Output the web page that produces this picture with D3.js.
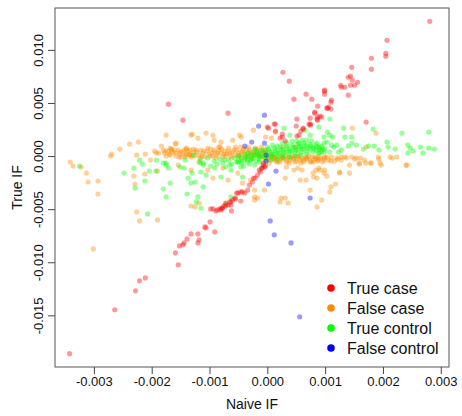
<!DOCTYPE html>
<html>
<head>
<meta http-equiv="Content-Type" content="text/html;charset=utf-8">
<script type="text/javascript" src="https://d3js.org/d3.v7.min.js"></script>
<style>
  body { margin: 0; background: #fff; }
  svg text { font-family: "Liberation Sans", Arial, Helvetica, sans-serif; }
</style>
</head>
<body>
<div id="chart"></div>
<script type="text/javascript">

// [naive IF, true IF]
var trueCase = [
  [2.81e-3,12.69e-3],[2.07e-3,10.90e-3],[2.05e-3,9.68e-3],[2.05e-3,9.40e-3],[1.80e-3,9.21e-3],[1.80e-3,8.18e-3],
  [1.46e-3,8.36e-3],[0.38e-3,7.05e-3],[1.40e-3,7.42e-3],[1.44e-3,7.52e-3],[1.47e-3,7.14e-3],[1.56e-3,6.95e-3],
  [1.51e-3,6.67e-3],[1.27e-3,6.67e-3],[1.28e-3,6.48e-3],[1.34e-3,6.48e-3],[1.44e-3,6.67e-3],[0.99e-3,6.11e-3],
  [0.99e-3,5.83e-3],[0.67e-3,5.83e-3],[0.77e-3,5.36e-3],[0.46e-3,5.36e-3],[1.40e-3,5.73e-3],[1.11e-3,5.26e-3],
  [1.10e-3,5.07e-3],[1.06e-3,4.61e-3],[1.04e-3,4.51e-3],[1.10e-3,4.42e-3],[1.03e-3,4.51e-3],[0.87e-3,4.70e-3],
  [0.82e-3,4.14e-3],[0.91e-3,3.76e-3],[0.87e-3,3.67e-3],[0.86e-3,3.48e-3],[0.87e-3,3.38e-3],[0.74e-3,3.57e-3],
  [0.51e-3,3.48e-3],[1.71e-3,3.20e-3],[0.75e-3,3.01e-3],[0.74e-3,2.91e-3],[0.50e-3,2.82e-3],[0.62e-3,2.63e-3],
  [0.27e-3,7.89e-3],[0.99e-3,6.20e-3],[0.72e-3,3.01e-3],[0.62e-3,2.54e-3],[0.58e-3,2.35e-3],[0.55e-3,1.97e-3],
  [0.51e-3,1.88e-3],[0.14e-3,3.01e-3],[0.02e-3,2.63e-3],[0.22e-3,1.69e-3],[0.26e-3,1.79e-3],[0.31e-3,1.41e-3],
  [-0.68e-3,4.04e-3],[-1.71e-3,4.89e-3],[-1.46e-3,3.38e-3],[0.00e-3,2.73e-3],[0.12e-3,3.01e-3],[0.14e-3,2.35e-3],
  [0.26e-3,2.07e-3],[0.82e-3,4.04e-3],[0.94e-3,3.67e-3],
  [-0.05e-3,-1.03e-3],[-0.07e-3,-0.66e-3],[-0.03e-3,-0.94e-3],[-0.12e-3,-1.50e-3],[-0.21e-3,-2.07e-3],
  [-0.26e-3,-2.44e-3],[-0.31e-3,-2.73e-3],[-0.34e-3,-3.20e-3],[-0.39e-3,-3.48e-3],[-0.46e-3,-3.38e-3],
  [-0.51e-3,-3.48e-3],[-0.56e-3,-3.95e-3],[-0.63e-3,-4.32e-3],[-0.72e-3,-4.42e-3],[-0.77e-3,-4.89e-3],
  [-0.86e-3,-5.07e-3],[-0.94e-3,-4.98e-3],[-0.53e-3,-3.48e-3],[-0.43e-3,-3.38e-3],[-0.55e-3,-4.04e-3],
  [-0.60e-3,-4.14e-3],[-0.65e-3,-4.32e-3],[-0.68e-3,-4.61e-3],[-0.63e-3,-4.61e-3],[-0.80e-3,-5.07e-3],
  [-0.89e-3,-5.17e-3],[-0.98e-3,-4.98e-3],[-0.62e-3,-5.17e-3],[-0.46e-3,-4.23e-3],[-0.99e-3,-6.20e-3],
  [-1.06e-3,-6.77e-3],[-0.91e-3,-7.14e-3],[-1.20e-3,-7.33e-3],[-1.32e-3,-7.33e-3],[-1.18e-3,-7.89e-3],
  [-1.20e-3,-8.18e-3],[-1.39e-3,-7.80e-3],[-1.44e-3,-8.18e-3],[-1.46e-3,-8.36e-3],[-1.52e-3,-8.46e-3],
  [-1.59e-3,-9.12e-3],[-1.54e-3,-10.24e-3],[-2.28e-3,-12.69e-3],[-2.21e-3,-11.75e-3],[-2.11e-3,-11.47e-3],
  [-2.64e-3,-14.47e-3],[-3.42e-3,-18.61e-3],[-1.08e-3,-6.67e-3],[-0.09e-3,-1.13e-3],[-0.14e-3,-1.32e-3],
  [-0.17e-3,-1.79e-3],[-0.24e-3,-2.07e-3],[-0.75e-3,-4.70e-3],[-0.79e-3,-4.89e-3],
  [-0.07e-3,-0.85e-3],[-0.10e-3,-1.13e-3],[-0.72e-3,-4.70e-3],[-0.82e-3,-4.98e-3]
];

var falseCase = [
  [-3.41e-3,-0.56e-3],[-3.36e-3,-0.94e-3],[-3.22e-3,-1.03e-3],[-3.13e-3,-1.60e-3],[-3.10e-3,-2.44e-3],
  [-2.93e-3,-2.35e-3],[-2.93e-3,-3.57e-3],[-3.01e-3,-8.74e-3],[-2.71e-3,0.00e-3],[-2.69e-3,0.19e-3],
  [-2.55e-3,0.66e-3],[-2.38e-3,1.13e-3],[-2.23e-3,1.32e-3],[-2.26e-3,0.09e-3],[-2.11e-3,0.19e-3],
  [-2.02e-3,-0.38e-3],[-2.12e-3,-1.69e-3],[-2.31e-3,-1.88e-3],[-2.29e-3,-2.63e-3],[-1.88e-3,0.28e-3],
  [-1.83e-3,0.94e-3],[-1.75e-3,1.97e-3],[-1.68e-3,0.75e-3],[-1.59e-3,1.13e-3],[-1.51e-3,0.38e-3],
  [-1.42e-3,0.09e-3],[-1.30e-3,2.07e-3],[-1.20e-3,1.69e-3],[-1.18e-3,-0.56e-3],[-1.06e-3,2.16e-3],
  [-0.92e-3,1.50e-3],[-0.84e-3,0.85e-3],[-1.18e-3,-4.42e-3],[-1.25e-3,-4.79e-3],[-1.54e-3,-0.85e-3],
  [-2.26e-3,-5.26e-3],[-2.21e-3,-6.11e-3],[-1.90e-3,-6.01e-3],[-1.90e-3,-1.41e-3],[-1.32e-3,-4.70e-3],
  [-1.40e-3,0.75e-3],[-1.40e-3,0.19e-3],[-1.34e-3,0.56e-3],[-1.32e-3,0.09e-3],[-1.58e-3,1.22e-3],
  [-1.66e-3,0.56e-3],[-1.80e-3,0.56e-3],[-1.95e-3,0.47e-3],[-1.92e-3,0.28e-3],
  [-1.32e-3,-1.32e-3],[-1.03e-3,-1.32e-3],[-0.94e-3,-2.07e-3],[-0.77e-3,-1.13e-3],[-0.68e-3,-2.26e-3],
  [-0.51e-3,-1.60e-3],[-0.43e-3,-2.54e-3],[-0.29e-3,-2.26e-3],[-0.22e-3,-3.20e-3],[-0.17e-3,-3.95e-3],
  [-0.05e-3,-3.20e-3],[0.31e-3,-2.07e-3],[0.46e-3,-1.32e-3],[0.60e-3,-1.32e-3],[0.80e-3,-1.97e-3],
  [0.89e-3,-1.13e-3],[0.74e-3,-3.20e-3],[0.94e-3,-4.14e-3],[0.86e-3,-4.79e-3],[0.22e-3,-4.32e-3],
  [0.31e-3,-3.95e-3],[-0.22e-3,-3.85e-3],
  [-0.24e-3,2.44e-3],[-0.45e-3,1.79e-3],[-0.46e-3,0.85e-3],[-0.33e-3,0.85e-3],[-0.10e-3,0.85e-3],
  [-0.03e-3,1.79e-3],[0.07e-3,1.69e-3],[0.14e-3,2.26e-3],[0.27e-3,0.85e-3],[0.48e-3,0.85e-3],
  [1.47e-3,2.63e-3],[1.88e-3,2.16e-3],[-0.48e-3,1.97e-3],[-1.32e-3,1.97e-3],[-0.94e-3,1.97e-3],
  [-0.80e-3,1.32e-3],[-0.60e-3,1.50e-3],
  [0.33e-3,-1.03e-3],[0.53e-3,-1.13e-3],[0.57e-3,-2.26e-3],[0.67e-3,-2.26e-3],[0.79e-3,-1.60e-3],
  [0.84e-3,-1.32e-3],[0.99e-3,-1.32e-3],[1.10e-3,-2.91e-3],[1.25e-3,-1.60e-3],[1.42e-3,-1.60e-3],
  [1.59e-3,-0.66e-3],[1.70e-3,-0.66e-3],[1.78e-3,-0.66e-3],[1.95e-3,-0.66e-3],[2.12e-3,-0.09e-3],
  [2.24e-3,-0.09e-3],[2.41e-3,-0.85e-3],[0.24e-3,-3.95e-3],[0.36e-3,-4.42e-3],[-0.22e-3,-4.14e-3],
  [1.71e-3,0.85e-3],[1.92e-3,-0.09e-3],[1.93e-3,-0.28e-3],[2.16e-3,-0.19e-3],[2.40e-3,-0.85e-3],
  [1.97e-3,-0.85e-3],[1.80e-3,-0.66e-3],[1.59e-3,-0.75e-3],[1.42e-3,-0.85e-3],[1.25e-3,-1.50e-3],
  [1.18e-3,-2.63e-3],[1.08e-3,-3.38e-3],[0.98e-3,-1.60e-3],[1.03e-3,-1.88e-3],[0.86e-3,-2.07e-3],
  [0.91e-3,-1.32e-3],
  [0.89e-3,-0.09e-3],[0.99e-3,-0.09e-3],[1.11e-3,-0.09e-3],[1.20e-3,-0.19e-3],[1.28e-3,-0.38e-3],
  [1.37e-3,-0.19e-3],[1.51e-3,-0.28e-3],[1.61e-3,-0.19e-3],
  [-1.78e-3,0.28e-3],[-1.71e-3,0.47e-3],[-1.68e-3,0.09e-3],[-1.63e-3,0.38e-3],[-1.58e-3,0.00e-3],
  [-1.54e-3,0.56e-3],[-1.51e-3,0.19e-3],[-1.46e-3,0.38e-3],[-1.42e-3,-0.09e-3],[-1.37e-3,0.47e-3],
  [-1.34e-3,0.19e-3],[-1.28e-3,0.66e-3],[-1.25e-3,0.00e-3],[-1.22e-3,0.38e-3],[-1.18e-3,0.09e-3],
  [-1.15e-3,0.56e-3],[-1.11e-3,0.28e-3],[-1.08e-3,-0.09e-3],[-1.04e-3,0.47e-3],[-1.01e-3,0.19e-3],
  [-0.98e-3,0.66e-3],[-0.94e-3,0.00e-3],[-0.91e-3,0.38e-3],[-0.87e-3,0.09e-3],[-0.84e-3,0.56e-3],
  [-0.80e-3,0.28e-3],[-0.77e-3,-0.09e-3],[-0.74e-3,0.47e-3],[-0.70e-3,0.19e-3],[-0.67e-3,0.75e-3],
  [-0.63e-3,0.00e-3],[-0.60e-3,0.38e-3],[-0.56e-3,0.09e-3],[-0.53e-3,0.56e-3],[-0.50e-3,0.28e-3],
  [-0.46e-3,-0.09e-3],[-0.43e-3,0.47e-3],[-0.39e-3,0.19e-3],[-0.36e-3,0.66e-3],[-0.33e-3,0.00e-3],
  [-0.29e-3,0.38e-3],[-0.26e-3,0.09e-3],[-0.22e-3,0.56e-3],[-0.19e-3,0.28e-3],[-0.15e-3,-0.09e-3],
  [-0.12e-3,0.47e-3],[-0.09e-3,0.19e-3],[-0.05e-3,-0.19e-3],[-0.02e-3,0.38e-3],
  [0.02e-3,-0.09e-3],[0.05e-3,-0.38e-3],[0.09e-3,0.00e-3],[0.12e-3,-0.28e-3],[0.15e-3,-0.47e-3],
  [0.19e-3,-0.09e-3],[0.22e-3,-0.38e-3],[0.26e-3,0.00e-3],[0.29e-3,-0.28e-3],[0.33e-3,-0.56e-3],
  [0.36e-3,-0.09e-3],[0.39e-3,-0.38e-3],[0.43e-3,0.00e-3],[0.46e-3,-0.28e-3],[0.50e-3,-0.47e-3],
  [0.53e-3,-0.09e-3],[0.56e-3,-0.38e-3],[0.60e-3,-0.19e-3],[0.63e-3,-0.56e-3],[0.67e-3,-0.09e-3],
  [0.70e-3,-0.28e-3],[0.74e-3,-0.47e-3],[0.77e-3,-0.09e-3],[0.80e-3,-0.38e-3],[0.84e-3,-0.19e-3],
  [0.87e-3,-0.47e-3],[0.92e-3,-0.19e-3],[0.98e-3,-0.38e-3],[1.03e-3,-0.09e-3],
  [-1.75e-3,0.00e-3],[-1.66e-3,0.66e-3],[-1.59e-3,0.28e-3],[-1.49e-3,-0.09e-3],[-1.40e-3,0.66e-3],
  [-1.32e-3,-0.09e-3],[-1.23e-3,0.56e-3],[-1.13e-3,0.00e-3],[-1.03e-3,0.75e-3],[-0.96e-3,0.28e-3],
  [-0.89e-3,-0.19e-3],[-0.82e-3,0.85e-3],[-0.75e-3,0.19e-3],[-0.68e-3,0.47e-3],[-0.62e-3,-0.19e-3],
  [-0.55e-3,0.85e-3],[-0.48e-3,0.09e-3],[-0.41e-3,0.66e-3],[-0.34e-3,0.28e-3],[-0.27e-3,-0.19e-3],
  [-0.21e-3,0.75e-3],[-0.14e-3,0.09e-3],[-0.07e-3,0.56e-3],
  [0.03e-3,-0.66e-3],[0.10e-3,-0.19e-3],[0.17e-3,-0.56e-3],[0.24e-3,-0.19e-3],[0.31e-3,0.00e-3],
  [0.38e-3,-0.66e-3],[0.45e-3,-0.19e-3],[0.51e-3,0.00e-3],[0.58e-3,-0.66e-3],[0.65e-3,-0.28e-3],
  [0.72e-3,0.00e-3],[0.79e-3,-0.56e-3],[0.86e-3,-0.28e-3],[0.96e-3,-0.56e-3],[1.06e-3,-0.38e-3],
  [1.16e-3,-0.47e-3],[1.28e-3,-0.09e-3],[1.46e-3,-0.09e-3],
  [-1.76e-3,0.47e-3],[-1.69e-3,0.19e-3],[-1.61e-3,0.56e-3],[-1.52e-3,-0.09e-3],[-1.44e-3,0.56e-3],
  [-1.35e-3,0.09e-3],[-1.27e-3,0.38e-3],[-1.16e-3,-0.19e-3],[-1.10e-3,0.47e-3],[-0.99e-3,0.00e-3],
  [-0.92e-3,0.56e-3],[-0.86e-3,0.28e-3],[-0.79e-3,0.66e-3],[-0.72e-3,0.00e-3],[-0.65e-3,0.28e-3],
  [-0.58e-3,0.56e-3],[-0.51e-3,0.00e-3],[-0.45e-3,0.38e-3],[-0.38e-3,-0.19e-3],[-0.31e-3,0.56e-3],
  [-0.24e-3,0.19e-3],[-0.17e-3,0.66e-3],[-0.10e-3,0.00e-3],[-0.03e-3,0.56e-3],
  [0.00e-3,-0.28e-3],[0.07e-3,0.09e-3],[0.14e-3,-0.19e-3],[0.21e-3,-0.56e-3],[0.27e-3,-0.09e-3],
  [0.34e-3,-0.38e-3],[0.41e-3,-0.19e-3],[0.48e-3,-0.56e-3],[0.55e-3,0.00e-3],[0.62e-3,-0.38e-3],
  [0.68e-3,-0.19e-3],[0.75e-3,-0.56e-3],[0.82e-3,-0.09e-3],[0.89e-3,-0.38e-3],[0.99e-3,-0.19e-3],
  [1.10e-3,-0.47e-3],[1.22e-3,-0.28e-3],[1.34e-3,-0.09e-3],[1.54e-3,-0.19e-3],[1.68e-3,-0.38e-3]
];

var trueControl = [
  [-1.16e-3,-0.38e-3],[-1.10e-3,-0.66e-3],[-1.03e-3,-0.19e-3],[-0.98e-3,-0.94e-3],[-0.92e-3,-0.47e-3],
  [-0.87e-3,-0.75e-3],[-0.82e-3,-0.28e-3],[-0.77e-3,-0.66e-3],[-0.72e-3,-1.03e-3],[-0.67e-3,-0.38e-3],
  [-0.62e-3,-0.75e-3],[-0.56e-3,-0.19e-3],[-0.53e-3,-0.56e-3],[-0.50e-3,0.00e-3],[-0.50e-3,-0.47e-3],
  [-0.45e-3,-0.19e-3],[-0.45e-3,-0.66e-3],[-0.39e-3,0.19e-3],[-0.39e-3,-0.38e-3],[-0.34e-3,-0.09e-3],
  [-0.34e-3,-0.56e-3],[-0.29e-3,0.09e-3],[-0.29e-3,-0.38e-3],[-0.24e-3,0.38e-3],[-0.24e-3,-0.19e-3],
  [-0.19e-3,0.00e-3],[-0.19e-3,-0.47e-3],[-0.14e-3,0.28e-3],[-0.14e-3,-0.28e-3],[-0.09e-3,0.56e-3],
  [-0.09e-3,0.00e-3],[-0.03e-3,0.28e-3],[-0.03e-3,-0.19e-3],[0.02e-3,0.66e-3],[0.02e-3,0.09e-3],
  [0.07e-3,0.38e-3],[0.07e-3,-0.09e-3],[0.12e-3,0.75e-3],[0.12e-3,0.19e-3],[0.17e-3,0.47e-3],
  [0.17e-3,0.00e-3],[0.22e-3,0.85e-3],[0.22e-3,0.28e-3],[0.27e-3,0.56e-3],[0.27e-3,0.09e-3],
  [0.33e-3,0.94e-3],[0.33e-3,0.38e-3],[0.38e-3,0.66e-3],[0.38e-3,0.19e-3],[0.43e-3,1.03e-3],
  [0.43e-3,0.47e-3],[0.48e-3,0.75e-3],[0.48e-3,0.28e-3],[0.53e-3,1.13e-3],[0.53e-3,0.56e-3],
  [0.58e-3,0.85e-3],[0.58e-3,0.38e-3],[0.63e-3,1.22e-3],[0.63e-3,0.66e-3],[0.68e-3,0.94e-3],
  [0.68e-3,0.47e-3],[0.74e-3,1.13e-3],[0.74e-3,0.66e-3],[0.79e-3,0.85e-3],[0.79e-3,0.38e-3],
  [0.84e-3,1.03e-3],[0.84e-3,0.56e-3],[0.89e-3,0.75e-3],[0.89e-3,0.28e-3],[0.94e-3,0.94e-3],
  [0.94e-3,0.47e-3],[0.99e-3,0.66e-3],
  [-0.14e-3,-0.56e-3],[-0.03e-3,-0.47e-3],[0.07e-3,-0.38e-3],[0.17e-3,-0.28e-3],[0.27e-3,-0.19e-3],
  [0.38e-3,-0.09e-3],[0.48e-3,0.00e-3],[0.58e-3,0.09e-3],[0.68e-3,0.19e-3],[0.09e-3,1.03e-3],
  [0.26e-3,1.22e-3],[0.43e-3,1.41e-3],[0.60e-3,1.50e-3],[0.77e-3,1.41e-3],[-0.21e-3,0.66e-3],
  [-0.31e-3,-0.75e-3],[-0.41e-3,-0.94e-3],
  [-0.38e-3,-0.09e-3],[-0.27e-3,-0.28e-3],[-0.17e-3,0.19e-3],[-0.07e-3,0.38e-3],[0.03e-3,0.47e-3],
  [0.14e-3,0.56e-3],[0.24e-3,0.66e-3],[0.34e-3,0.75e-3],[0.45e-3,0.85e-3],[0.55e-3,0.94e-3],
  [0.65e-3,1.03e-3],[0.75e-3,0.94e-3],[0.86e-3,0.85e-3],[0.96e-3,0.66e-3],[-0.33e-3,0.28e-3],
  [-0.22e-3,0.09e-3],[-0.12e-3,-0.09e-3],[-0.02e-3,0.00e-3],[0.09e-3,0.19e-3],[0.19e-3,0.28e-3],
  [0.29e-3,0.38e-3],[0.39e-3,0.47e-3],[0.50e-3,0.56e-3],[0.60e-3,0.66e-3],[0.70e-3,0.75e-3],
  [0.80e-3,0.66e-3],[0.91e-3,0.56e-3],[0.51e-3,1.41e-3],[0.34e-3,1.22e-3],[0.17e-3,0.94e-3],
  [0.00e-3,0.85e-3],[-0.17e-3,0.47e-3],[-0.34e-3,-0.28e-3],[-0.45e-3,-0.47e-3],
  [-3.25e-3,-0.94e-3],[-2.48e-3,-1.60e-3],[-2.31e-3,-1.13e-3],[-2.21e-3,-0.38e-3],[-2.16e-3,-0.75e-3],
  [-2.04e-3,-1.41e-3],[-1.93e-3,-1.41e-3],[-1.92e-3,-0.38e-3],[-1.80e-3,-0.66e-3],[-1.75e-3,-0.66e-3],
  [-1.71e-3,-1.13e-3],[-1.75e-3,-0.85e-3],[-1.68e-3,-2.54e-3],[-1.80e-3,-3.10e-3],[-1.75e-3,-3.85e-3],
  [-2.29e-3,-3.01e-3],[-2.12e-3,-2.35e-3],[-2.07e-3,-5.45e-3],[-1.51e-3,-1.03e-3],[-1.44e-3,-1.13e-3],
  [-1.42e-3,-0.38e-3],[-1.37e-3,-2.07e-3],[-1.30e-3,-1.60e-3],[-1.32e-3,-2.54e-3],[-1.39e-3,-3.57e-3],
  [-1.28e-3,0.09e-3],[-1.16e-3,-0.66e-3],[-1.11e-3,-0.85e-3],[-1.15e-3,-1.50e-3],[-1.06e-3,-1.79e-3],
  [-1.25e-3,-2.44e-3],[-1.11e-3,-2.91e-3],[-0.91e-3,-1.13e-3],[-0.74e-3,-0.38e-3],[-0.65e-3,-0.85e-3],
  [-0.63e-3,-1.32e-3],[-0.80e-3,-1.97e-3],[-0.51e-3,-0.56e-3],[-0.46e-3,-1.03e-3],[-0.43e-3,-1.97e-3],
  [-1.20e-3,-3.85e-3],[-1.23e-3,-4.32e-3],[-1.15e-3,-4.89e-3],[-0.63e-3,-3.85e-3],[-0.72e-3,-4.51e-3],
  [-0.22e-3,-0.85e-3],
  [0.29e-3,2.63e-3],[0.39e-3,1.97e-3],[0.55e-3,1.22e-3],[0.65e-3,2.44e-3],[0.68e-3,1.50e-3],
  [0.74e-3,1.97e-3],[0.89e-3,2.73e-3],[0.98e-3,1.22e-3],[1.08e-3,3.48e-3],[1.32e-3,2.63e-3],
  [1.83e-3,2.54e-3],[2.33e-3,2.16e-3],[2.79e-3,2.26e-3],[1.04e-3,2.26e-3],[1.08e-3,1.97e-3],
  [1.13e-3,1.79e-3],[0.98e-3,1.79e-3],[1.03e-3,1.32e-3],[1.34e-3,1.79e-3],[1.46e-3,1.79e-3],
  [1.46e-3,1.22e-3],[1.40e-3,0.94e-3],[1.54e-3,1.03e-3],[1.66e-3,0.66e-3],[1.75e-3,0.94e-3],
  [1.85e-3,0.94e-3],[1.93e-3,0.56e-3],[2.07e-3,1.32e-3],[2.09e-3,0.85e-3],[2.21e-3,0.66e-3],
  [2.43e-3,1.03e-3],[2.47e-3,0.75e-3],[2.52e-3,0.47e-3],[2.43e-3,0.28e-3],[2.65e-3,0.85e-3],
  [2.69e-3,0.28e-3],[2.79e-3,0.75e-3],[2.89e-3,0.66e-3],[1.20e-3,1.03e-3],[1.23e-3,0.38e-3],
  [1.28e-3,0.56e-3],[1.11e-3,1.03e-3],[0.86e-3,1.22e-3],[0.91e-3,0.85e-3],[0.98e-3,0.38e-3],
  [1.08e-3,0.38e-3],[1.15e-3,0.85e-3],[0.89e-3,0.28e-3]
];

var falseControl = [
  [-0.05e-3,3.85e-3],[-0.15e-3,2.82e-3],[-0.27e-3,1.32e-3],[-0.39e-3,0.94e-3],[-0.05e-3,1.22e-3],
  [-0.02e-3,0.09e-3],[-0.02e-3,-0.47e-3],[0.15e-3,-1.41e-3],[0.02e-3,-2.63e-3],[0.74e-3,-3.95e-3],
  [0.05e-3,-6.11e-3],[0.12e-3,-7.42e-3],[0.41e-3,-8.18e-3],[0.56e-3,-15.13e-3]
];

var groupNames = ["True case", "False case", "True control", "False control"];
var groupColors = ["#ff0000", "#ff8c00", "#00ff00", "#0000ff"];
var groupData = [trueCase, falseCase, trueControl, falseControl];
var drawOrder = [1, 2, 0, 3];

var xTicks = [-0.003, -0.002, -0.001, 0, 0.001, 0.002, 0.003];
var xTickLabels = ["-0.003", "-0.002", "-0.001", "0.000", "0.001", "0.002", "0.003"];
var yTicks = [-0.015, -0.010, -0.005, 0, 0.005, 0.010];
var yTickLabels = ["-0.015", "-0.010", "-0.005", "0.000", "0.005", "0.010"];

var width = 462, height = 416;
var margin = {top: 8, right: 13, bottom: 49, left: 55};
var plotW = width - margin.left - margin.right;
var plotH = height - margin.top - margin.bottom;

var allPts = d3.merge(groupData);
// R style: data range extended by 4% on each side
var xExt = d3.extent(allPts, function(d) { return d[0]; });
var yExt = d3.extent(allPts, function(d) { return d[1]; });
var xPad = (xExt[1] - xExt[0]) * 0.04;
var yPad = (yExt[1] - yExt[0]) * 0.04;

var x = d3.scaleLinear().domain([xExt[0] - xPad, xExt[1] + xPad]).range([0, plotW]);
var y = d3.scaleLinear().domain([yExt[0] - yPad, yExt[1] + yPad]).range([plotH, 0]);

var svg = d3.select("#chart").append("svg")
    .attr("width", width)
    .attr("height", height)
  .append("g")
    .attr("transform", "translate(" + margin.left + "," + margin.top + ")");

drawOrder.forEach(function(g) {
  svg.append("g")
    .selectAll("circle")
    .data(groupData[g])
    .enter().append("circle")
      .attr("cx", function(d) { return x(d[0]); })
      .attr("cy", function(d) { return y(d[1]); })
      .attr("r", 2.6)
      .style("fill", groupColors[g])
      .style("fill-opacity", 0.4);
});

var xAxis = svg.append("g")
    .attr("transform", "translate(0," + plotH + ")")
    .call(d3.axisBottom(x).tickValues(xTicks).tickSizeInner(7).tickSizeOuter(0)
      .tickFormat(function(d, i) { return xTickLabels[i]; }));
xAxis.selectAll("text").style("font-size", "13px").style("fill", "#111");

var yAxis = svg.append("g")
    .call(d3.axisLeft(y).tickValues(yTicks).tickSizeInner(7).tickSizeOuter(0)
      .tickFormat(function(d, i) { return yTickLabels[i]; }));
yAxis.selectAll("text")
    .attr("transform", "rotate(-90)")
    .attr("x", 0)
    .attr("y", -12)
    .attr("dy", 0)
    .attr("text-anchor", "middle")
    .style("font-size", "13px")
    .style("fill", "#111");

svg.selectAll(".domain").remove();
svg.selectAll(".tick line").style("stroke", "#444");

// plot frame
svg.append("rect")
    .attr("x", 0).attr("y", 0)
    .attr("width", plotW).attr("height", plotH)
    .style("fill", "none")
    .style("stroke", "#555")
    .style("stroke-width", 1);

svg.append("text")
    .attr("x", plotW / 2)
    .attr("y", plotH + 42)
    .attr("text-anchor", "middle")
    .style("font-size", "14px")
    .style("fill", "#111")
    .text("Naive IF");

svg.append("text")
    .attr("transform", "rotate(-90)")
    .attr("x", -plotH / 2)
    .attr("y", -33)
    .attr("text-anchor", "middle")
    .style("font-size", "14px")
    .style("fill", "#111")
    .text("True IF");

var legend = svg.append("g")
    .attr("transform", "translate(" + (331 - margin.left) + "," + (288 - margin.top) + ")");

legend.selectAll("circle")
    .data(groupNames)
    .enter().append("circle")
      .attr("cx", 0)
      .attr("cy", function(d, i) { return i * 20; })
      .attr("r", 3.8)
      .style("fill", function(d, i) { return groupColors[i]; });

legend.selectAll("text")
    .data(groupNames)
    .enter().append("text")
      .attr("x", 16)
      .attr("y", function(d, i) { return i * 20 + 5.7; })
      .style("font-size", "16px")
      .style("fill", "#111")
      .text(function(d) { return d; });

</script>
</body>
</html>
